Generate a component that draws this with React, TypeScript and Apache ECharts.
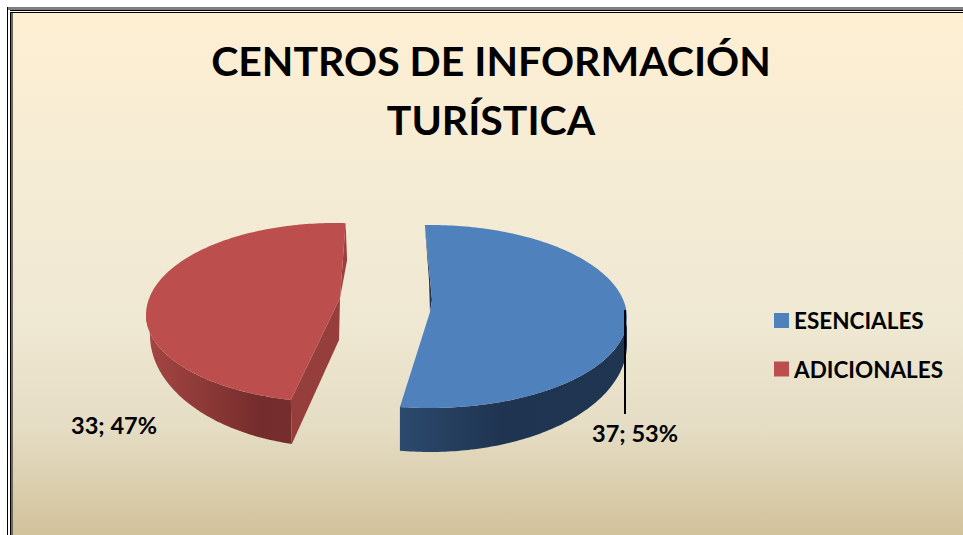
import React, { useEffect, useRef } from "react";
import * as echarts from "echarts";

const titleLines = ["CENTROS DE INFORMACIÓN", "TURÍSTICA"];
const categories = ["ESENCIALES", "ADICIONALES"];
const values = [37, 33];
const total = values.reduce((a, b) => a + b, 0);
const FONT = "Lato, 'Noto Sans', sans-serif";

// layout of each exploded slice in the picture's squashed 3D projection
const slices = [
  {
    start: -1.5, cx: 430, cy: 318, rx: 197, ryUp: 93, ryDown: 90,
    bcx: 430, bcy: 344, brx: 197, bry: 108, apex: [430, 312], kink: [432, 300],
    wallFrom: 90, top: "#4f81bd",
    wallStops: [[0, "#2c4a6e"], [0.45, "#1f3450"], [1, "#1f3550"]],
    cut: "#1f3450", side: "#1f3450", cutDepth: 0,
    labelPos: [635, 433], leader: [[625, 310], [625, 414]],
  },
  {
    start: 193.5, cx: 335, cy: 315, rx: 189, ryUp: 92, ryDown: 87.4,
    bcx: 335, bcy: 335, brx: 185, bry: 112, apex: [340, 298], kink: [340, 298],
    wallFrom: 270, top: "#bc4f4d",
    wallStops: [[0, "#a54643"], [0.8, "#742c2c"], [1, "#762d2d"]],
    cut: "#953e3b", side: "#9b403e", cutDepth: 42,
    labelPos: [114, 425], leader: null,
  },
];

const rad = (d: number) => (d * Math.PI) / 180;
const topPoint = (s: any, deg: number) => {
  const c = Math.cos(rad(deg));
  return [s.cx + s.rx * Math.sin(rad(deg)), s.cy - (c >= 0 ? s.ryUp : s.ryDown) * c];
};
const basePoint = (s: any, deg: number) => [
  s.bcx + s.brx * Math.sin(rad(deg)),
  s.bcy - s.bry * Math.cos(rad(deg)),
];
const arc = (fn: (d: number) => number[], from: number, to: number) => {
  const out: number[][] = [];
  const n = Math.max(2, Math.ceil(Math.abs(to - from)));
  for (let i = 0; i <= n; i++) out.push(fn(from + ((to - from) * i) / n));
  return out;
};
const toPath = (pts: number[][]) =>
  pts.map((p, i) => `${i ? "L" : "M"}${p[0].toFixed(2)} ${p[1].toFixed(2)}`).join(" ") + " Z";
const pathEl = (pts: number[][], fill: any) => {
  const xs = pts.map((p) => p[0]);
  const ys = pts.map((p) => p[1]);
  const x0 = Math.min(...xs);
  const y0 = Math.min(...ys);
  const w = Math.max(...xs) - x0;
  const h = Math.max(...ys) - y0;
  return {
    type: "path",
    shape: { pathData: toPath(pts), x: x0, y: y0, width: w, height: h },
    style: { fill },
  };
};

const makeSeries = (idx: number) => ({
  type: "custom",
  name: categories[idx],
  coordinateSystem: "none",
  itemStyle: { color: slices[idx].top },
  data: [[values[idx]]],
  renderItem: (_p: any, api: any) => {
    const s: any = slices[idx];
    const v = api.value(0);
    const sweep = (v / total) * 360;
    const a0 = s.start;
    const a1 = s.start + sweep;
    const children: any[] = [];
    // the wall runs over the visible front part of the rim only
    const wallA = idx === 0 ? a1 : a0;
    const wall = [...arc((d) => topPoint(s, d), s.wallFrom, wallA), ...arc((d) => basePoint(s, d), wallA, s.wallFrom)];
    children.push(
      pathEl(wall, new echarts.graphic.LinearGradient(0, 0, 1, 0, s.wallStops.map((t: any[]) => ({ offset: t[0], color: t[1] }))))
    );
    const upper = topPoint(s, idx === 0 ? a0 : a1);
    const lower = topPoint(s, idx === 0 ? a1 : a0);
    // inner cut faces
    if (idx === 0) {
      children.push(pathEl([upper, s.kink, s.apex, [s.apex[0] - 1, s.apex[1] - 32]], s.side));
    } else {
      const lowerBase = basePoint(s, a0);
      children.push(pathEl([upper, [upper[0] + 1.5, upper[1] + 37], s.apex], s.side));
      children.push(pathEl([s.apex, [s.apex[0] - 1, s.apex[1] + s.cutDepth], lowerBase, lower], s.cut));
    }
    children.push(pathEl([...arc((d) => topPoint(s, d), a0, a1), s.apex, s.kink], s.top));
    if (s.leader) {
      children.push({
        type: "line",
        shape: { x1: s.leader[0][0], y1: s.leader[0][1], x2: s.leader[1][0], y2: s.leader[1][1] },
        style: { stroke: "#000", lineWidth: 2 },
      });
    }
    children.push({
      type: "text",
      x: s.labelPos[0],
      y: s.labelPos[1],
      style: {
        text: `${v}; ${Math.round((v / total) * 100)}%`,
        font: `bold 23.5px ${FONT}`,
        fill: "#000",
        align: "center",
        verticalAlign: "middle",
      },
    });
    return { type: "group", children };
  },
});

const frameRect = (x: number, y: number, w: number, h: number, fill: any) => ({
  type: "rect", silent: true, z: -10, shape: { x, y, width: w, height: h }, style: { fill },
});

export default function App() {
  const ref = useRef<HTMLDivElement>(null);
  useEffect(() => {
    const chart = echarts.init(ref.current!, undefined, { renderer: "svg" });
    chart.setOption({
      animation: false,
      backgroundColor: "#ffffff",
      title: {
        text: titleLines.join("\n"),
        left: 486,
        top: 26,
        textAlign: "center",
        textStyle: { fontFamily: FONT, fontWeight: "bold", fontSize: 41, lineHeight: 59, color: "#000" },
      },
      legend: {
        orient: "vertical",
        left: 774,
        top: 309,
        padding: 0,
        itemWidth: 15,
        itemHeight: 15,
        itemGap: 25.5,
        icon: "rect",
        data: categories,
        textStyle: { fontFamily: FONT, fontWeight: "bold", fontSize: 22.5, color: "#000" },
      },
      graphic: [
        frameRect(7, 7, 956, 528, "#000"),
        frameRect(8, 7, 955, 3, "#808080"),
        frameRect(8, 11, 955, 1, "#fff"),
        frameRect(8, 10, 2, 525, "#fff"),
        frameRect(10, 12, 1, 523, "#000"),
        frameRect(11, 13, 2, 522, "#6f6a5e"),
        frameRect(13, 13, 950, 522, new echarts.graphic.LinearGradient(0, 0, 0, 1, [
          { offset: 0, color: "#feefd2" },
          { offset: 0.3, color: "#f5ecd5" },
          { offset: 0.6, color: "#efe8d2" },
          { offset: 0.8, color: "#e4dcc3" },
          { offset: 1, color: "#d2c29b" },
        ])),
      ],
      series: [makeSeries(0), makeSeries(1)],
    });
    return () => chart.dispose();
  }, []);
  return <div ref={ref} style={{ position: "absolute", left: 0, top: 0, width: 963, height: 535 }} />;
}
